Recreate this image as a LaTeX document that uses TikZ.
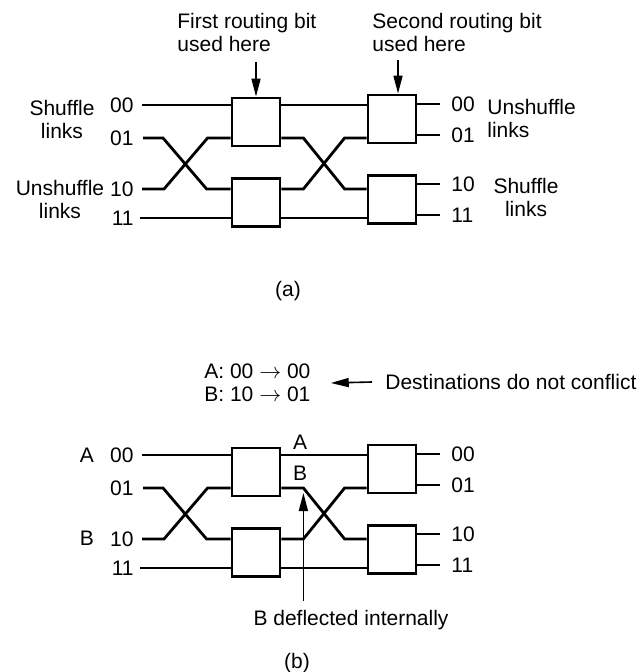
\documentclass[tikz,border=0pt]{standalone}
\usepackage{fontspec}
\setmainfont{Liberation Sans}
\usetikzlibrary{arrows.meta,positioning}

\begin{document}
\begin{tikzpicture}[
      x=0.5pt,y=-0.5pt,
      font=\fontsize{10.5}{11.5}\selectfont,
      swbox/.style={draw,line width=1.4pt,minimum size=24pt,inner sep=0pt},
      wire/.style={line width=1.4pt},
      lbl/.style={inner sep=0pt},
      pointer/.style={-{Triangle[length=9pt,width=4.5pt]},line width=0.8pt}
    ]
      \useasboundingbox (0,0) rectangle (642,672);
      % both networks
      \foreach \p/\dy in {a/0,b/350}{
        \node[swbox] (sw1\p) at (256,122+\dy) {};
        \node[swbox,below=15pt of sw1\p] (sw2\p) {};
        \node[swbox] (sw3\p) at (392,119+\dy) {};
        \node[swbox,below=15pt of sw3\p] (sw4\p) {};
        \node[lbl,anchor=east] (i00\p) at (134,105+\dy) {00};
        \node[lbl,anchor=east] (i01\p) at (134,138+\dy) {01};
        \node[lbl,anchor=east] (i10\p) at (134,189+\dy) {10};
        \node[lbl,anchor=east] (i11\p) at (134,218+\dy) {11};
        \node[lbl,anchor=west] (o00\p) at (451,104+\dy) {00};
        \node[lbl,anchor=west] (o01\p) at (451,135+\dy) {01};
        \node[lbl,anchor=west] (o10\p) at (451,184+\dy) {10};
        \node[lbl,anchor=west] (o11\p) at (451,215+\dy) {11};
        % input links
        \draw[wire] ([xshift=4pt]i00\p.east) -- (sw1\p.west |- i00\p.east);
        \draw[wire] ([xshift=4.5pt]i01\p.east) -- ++(10pt,0)
          -- ([xshift=-12pt]sw2\p.west |- i10\p.east) -- (sw2\p.west |- i10\p.east);
        \draw[wire] ([xshift=4pt]i10\p.east) -- ++(11pt,0)
          -- ([xshift=-11.5pt]sw1\p.west |- i01\p.east) -- (sw1\p.west |- i01\p.east);
        \draw[wire] ([xshift=3pt]i11\p.east) -- (sw2\p.west |- i11\p.east);
        % between stages
        \draw[wire] (sw1\p.east |- i00\p.east) -- (sw3\p.west |- i00\p.east);
        \draw[wire] (sw1\p.east |- i01\p.east) -- ++(11pt,0) coordinate (bend\p)
          -- ([xshift=-11pt]sw4\p.west |- i10\p.east) -- (sw4\p.west |- i10\p.east);
        \draw[wire] (sw2\p.east |- i10\p.east) -- ++(11pt,0)
          -- ([xshift=-11pt]sw3\p.west |- i01\p.east) -- (sw3\p.west |- i01\p.east);
        \draw[wire] (sw2\p.east |- i11\p.east) -- (sw4\p.west |- i11\p.east);
        % output links
        \draw[wire] (sw3\p.east |- o00\p.west) -- ([xshift=-5.5pt]o00\p.west);
        \draw[wire] (sw3\p.east |- o01\p.west) -- ([xshift=-5.5pt]o01\p.west);
        \draw[wire] (sw4\p.east |- o10\p.west) -- ([xshift=-5.5pt]o10\p.west);
        \draw[wire] (sw4\p.east |- o11\p.west) -- ([xshift=-5.5pt]o11\p.west);
      }
      % (a)
      \node[lbl,align=left,anchor=north west] (bit1) at (177,13) {First routing bit\\used here};
      \node[lbl,align=left,anchor=north west] (bit2) at (372,13) {Second routing bit\\used here};
      \draw[pointer] ([yshift=-5pt]bit1.south -| sw1a.north) -- (sw1a.north);
      \draw[pointer] ([xshift=3pt,yshift=-4pt]bit2.south -| sw3a.north) -- ([xshift=3pt]sw3a.north);
      \node[lbl,align=center] (shufl) at (62,120) {Shuffle\\links};
      \node[lbl,align=center] (unshl) at (60,199) {Unshuffle\\links};
      \node[lbl,align=left,anchor=west] (unshr) at (487,119) {Unshuffle\\links};
      \node[lbl,align=center] (shufr) at (526,197) {Shuffle\\links};
      \node[lbl] (capa) at (288,291) {(a)};
      % (b)
      \node[lbl,align=left,anchor=west] (pairs) at (204,383) {A: 00 $\rightarrow$ 00\\B: 10 $\rightarrow$ 01};
      \node[lbl,anchor=west] (dest) at (385,382) {Destinations do not conflict};
      \draw[pointer] ([xshift=-6.5pt]dest.west) -- ([xshift=10pt]pairs.east);
      \node[lbl] (srcA) at (87,455) {A};
      \node[lbl] (srcB) at (87,538) {B};
      \node[lbl] (pathA) at (300,442) {A};
      \node[lbl] (pathB) at (300,473) {B};
      \node[lbl] (defl) at (351,620) {B deflected internally};
      \draw[pointer] ([yshift=4.5pt]defl.north -| bendb) -- ([yshift=-2.5pt]bendb);
      \node[lbl] (capb) at (297,663) {(b)};
    \end{tikzpicture}
\end{document}
